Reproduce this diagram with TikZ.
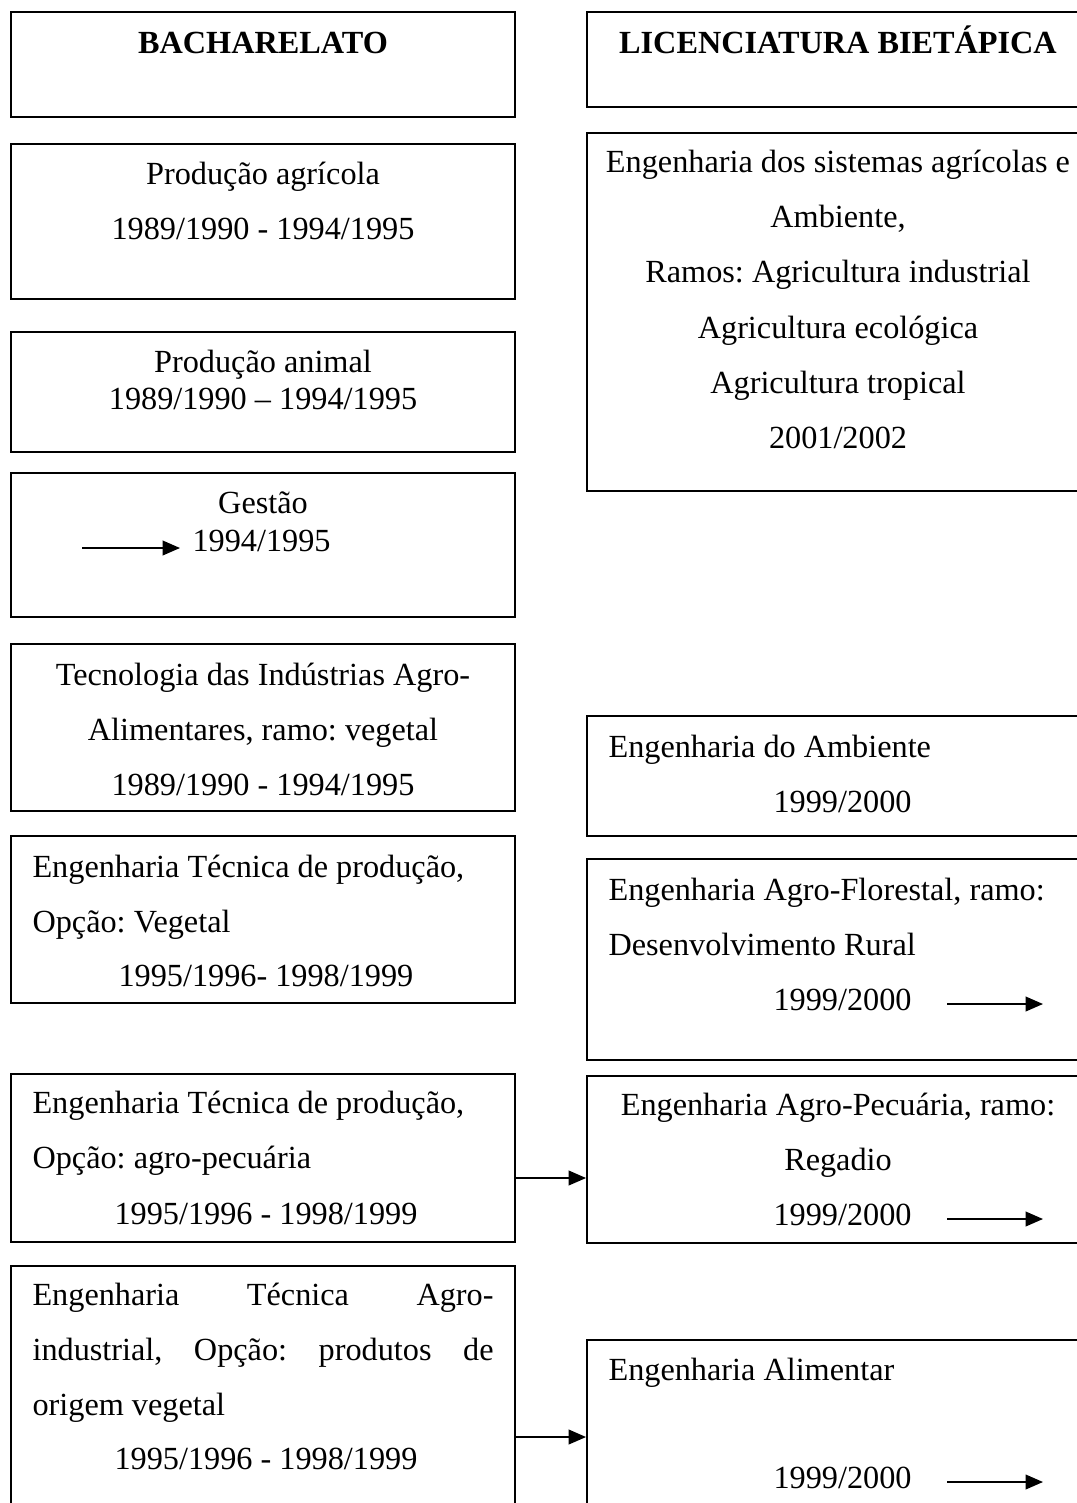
\documentclass[tikz,border=0pt]{standalone}
\usepackage{fontspec}
\setmainfont{Liberation Serif}
\usetikzlibrary{arrows.meta,fit}
\frenchspacing
\begin{document}
\begin{tikzpicture}[x=0.372pt,y=-0.372pt,
  box/.style={draw, line width=0.7pt, inner sep=0pt, rectangle},
  txt/.style={inner sep=0pt, font=\fontsize{12pt}{14pt}\selectfont},
  ctr/.style={txt, anchor=base},
  lft/.style={txt, anchor=base west},
  head/.style={ctr, font=\fontsize{12pt}{14pt}\selectfont\bfseries},
  arr/.style={line width=0.6pt, -{Triangle[length=6.5pt,width=5.5pt]}}
]
\path[use as bounding box, clip] (0,0) rectangle (1077,1503);

% ---- left column: bacharelato ----
\node[box, fit={(11,12) (515,117)}] (bach) {};
\node[head] (tbach) at (263,53) {BACHARELATO};

\node[box, fit={(11,144) (515,299)}] (pagr) {};
\node[ctr] (tpagr1) at (263,184) {Produção agrícola};
\node[ctr] (tpagr2) at (263,239) {1989/1990 - 1994/1995};

\node[box, fit={(11,332) (515,452)}] (pani) {};
\node[ctr] (tpani1) at (263,372) {Produção animal};
\node[ctr] (tpani2) at (263,409) {1989/1990 – 1994/1995};

\node[box, fit={(11,473) (515,617)}] (gest) {};
\node[ctr] (tgest1) at (263,513) {Gestão};
\node[lft] (tgest2) at (192,551) {1994/1995};
\coordinate (ga) at (82,548);
\coordinate (gb) at (180,548);
\draw[arr] (ga) -- (gb);

\node[box, fit={(11,644) (515,811)}] (tecn) {};
\node[ctr] (ttecn1) at (263,685) {Tecnologia das Indústrias Agro-};
\node[ctr] (ttecn2) at (263,740) {Alimentares, ramo: vegetal};
\node[ctr] (ttecn3) at (263,795) {1989/1990 - 1994/1995};

\node[box, fit={(11,836) (515,1003)}] (tveg) {};
\node[lft] (ttveg1) at (32,877) {Engenharia Técnica de produção,};
\node[lft] (ttveg2) at (32,932) {Opção: Vegetal};
\node[lft] (ttveg3) at (118,986) {1995/1996- 1998/1999};

\node[box, fit={(11,1074) (515,1242)}] (tpec) {};
\node[lft] (ttpec1) at (32,1113) {Engenharia Técnica de produção,};
\node[lft] (ttpec2) at (32,1168) {Opção: agro-pecuária};
\node[lft] (ttpec3) at (114,1224) {1995/1996 - 1998/1999};

\node[box, fit={(11,1266) (515,1530)}] (tind) {};
\node[lft] (ttind1) at (32,1305) {\hbox to 171.5pt{Engenharia\hfil Técnica\hfil Agro-}};
\node[lft] (ttind2) at (32,1360) {\hbox to 171.5pt{industrial,\hfil Opção:\hfil produtos\hfil de}};
\node[lft] (ttind3) at (32,1415) {origem vegetal};
\node[lft] (ttind4) at (114,1469) {1995/1996 - 1998/1999};

% ---- right column: licenciatura bietapica ----
\node[box, fit={(587,12) (1090,107)}] (lic) {};
\node[head] (tlic) at (838,53) {LICENCIATURA BIETÁPICA};

\node[box, fit={(587,133) (1090,491)}] (esis) {};
\node[ctr] (tesis1) at (838,172) {Engenharia dos sistemas agrícolas e};
\node[ctr] (tesis2) at (838,227) {Ambiente,};
\node[ctr] (tesis3) at (838,282) {Ramos: Agricultura industrial};
\node[ctr] (tesis4) at (838,338) {Agricultura ecológica};
\node[ctr] (tesis5) at (838,393) {Agricultura tropical};
\node[ctr] (tesis6) at (838,448) {2001/2002};

\node[box, fit={(587,716) (1090,836)}] (eamb) {};
\node[lft] (teamb1) at (608,757) {Engenharia do Ambiente};
\node[lft] (teamb2) at (773,812) {1999/2000};

\node[box, fit={(587,859) (1090,1060)}] (eflo) {};
\node[lft] (teflo1) at (608,900) {Engenharia Agro-Florestal, ramo:};
\node[lft] (teflo2) at (608,955) {Desenvolvimento Rural};
\node[lft] (teflo3) at (773,1010) {1999/2000};
\coordinate (fa) at (947,1004);
\coordinate (fb) at (1043,1004);
\draw[arr] (fa) -- (fb);

\node[box, fit={(587,1076) (1090,1243)}] (epec) {};
\node[ctr] (tepec1) at (838,1115) {Engenharia Agro-Pecuária, ramo:};
\node[ctr] (tepec2) at (838,1170) {Regadio};
\node[lft] (tepec3) at (773,1225) {1999/2000};
\coordinate (pa) at (947,1219);
\coordinate (pb) at (1043,1219);
\draw[arr] (pa) -- (pb);

\node[box, fit={(587,1340) (1090,1530)}] (ealim) {};
\node[lft] (tealim1) at (608,1380) {Engenharia Alimentar};
\node[lft] (tealim2) at (773,1488) {1999/2000};
\coordinate (aa) at (947,1482);
\coordinate (ab) at (1043,1482);
\draw[arr] (aa) -- (ab);

% ---- connectors between the columns ----
\coordinate (ly1) at (0,1178);
\draw[arr] (tpec.east |- ly1) -- (epec.west |- ly1);
\coordinate (ly2) at (0,1437);
\draw[arr] (tind.east |- ly2) -- (ealim.west |- ly2);
\end{tikzpicture}
\end{document}
